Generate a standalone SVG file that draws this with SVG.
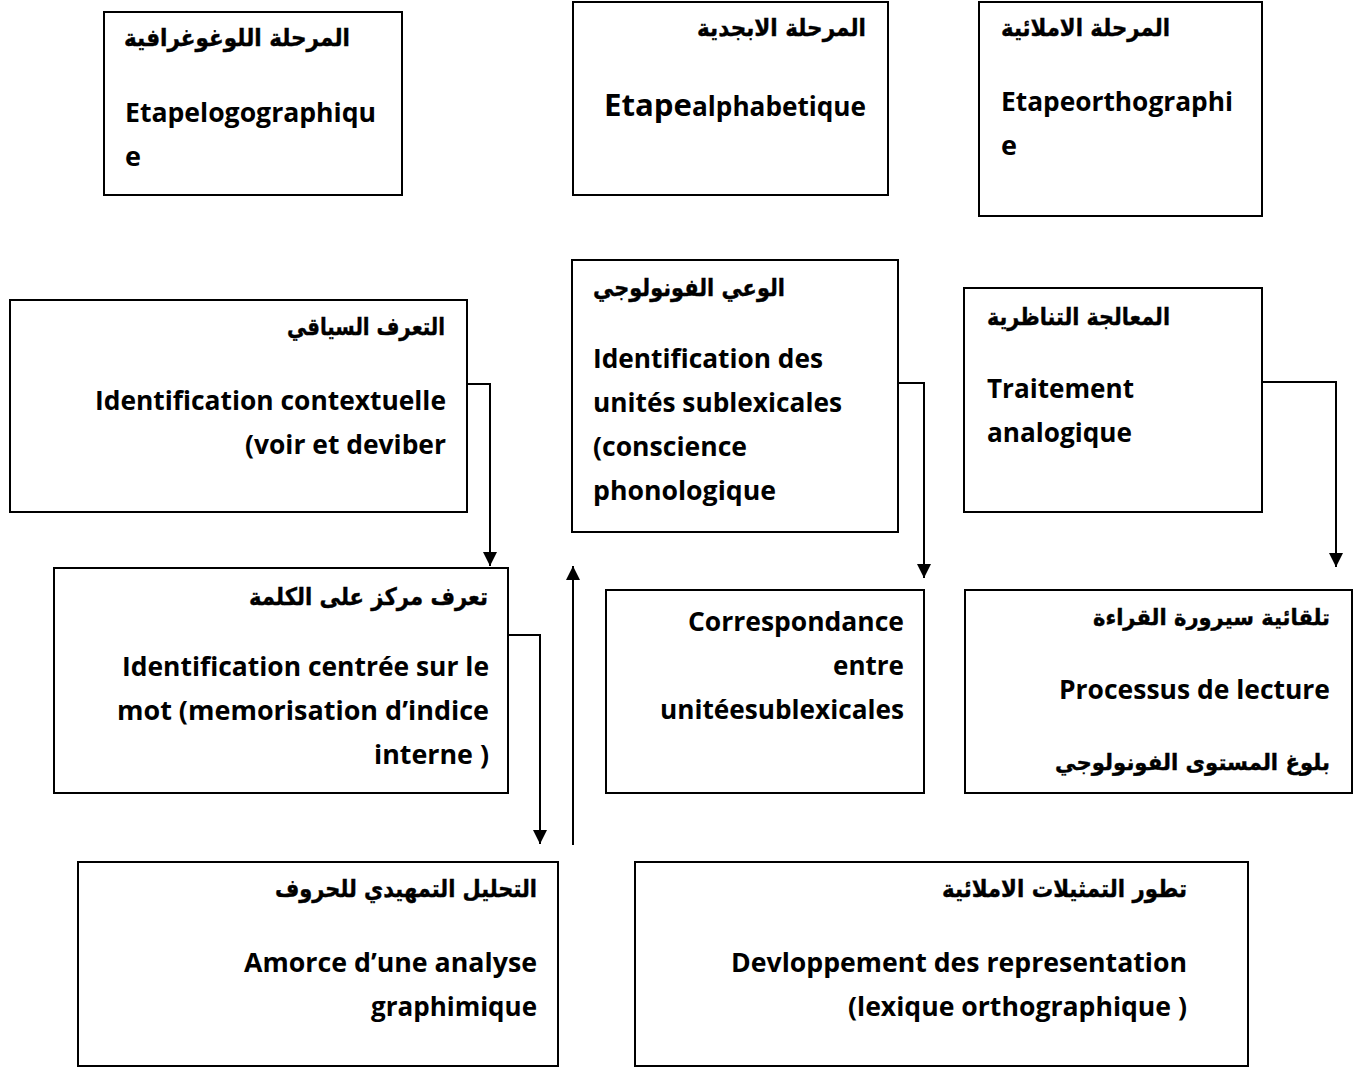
<svg xmlns="http://www.w3.org/2000/svg" width="1362" height="1068" viewBox="0 0 1362 1068">
<defs>
<marker id="arr" markerUnits="userSpaceOnUse" markerWidth="14" markerHeight="16" refX="14" refY="7" orient="auto">
<path d="M0,0 L14,7 L0,14 z" fill="#000"/>
</marker>
<style>
.box{fill:#fff;stroke:#000;stroke-width:2}
.en{font-family:"Open Sans",Lato,"Liberation Sans",sans-serif;font-weight:bold;font-size:27px;fill:#000}
.ar{font-family:"DejaVu Sans","Noto Sans",sans-serif;font-weight:bold;font-size:24px;fill:#000;stroke:#000;stroke-width:0.4}
.ars{font-size:22px}
.con{fill:none;stroke:#000;stroke-width:2}
</style>
</defs>
<rect width="1362" height="1068" fill="#fff"/>

<g id="connectors">
<path class="con" d="M467,384 H490 V566" marker-end="url(#arr)"/>
<path class="con" d="M898,383 H924 V578" marker-end="url(#arr)"/>
<path class="con" d="M1262,382 H1336 V567" marker-end="url(#arr)"/>
<path class="con" d="M508,635 H540 V844" marker-end="url(#arr)"/>
<path class="con" d="M573,845 V566" marker-end="url(#arr)"/>
</g>

<g id="n1">
<rect class="box" x="104" y="12" width="298" height="183"/>
<text class="ar" x="350" y="46" text-anchor="end" textLength="226" lengthAdjust="spacingAndGlyphs">المرحلة اللوغوغرافية</text>
<text class="en" x="125" y="122" textLength="251" lengthAdjust="spacingAndGlyphs">Etapelogographiqu</text>
<text class="en" x="125" y="166">e</text>
</g>

<g id="n2">
<rect class="box" x="573" y="2" width="315" height="193"/>
<text class="ar" x="866" y="36" text-anchor="end" textLength="169" lengthAdjust="spacingAndGlyphs">المرحلة الابجدية</text>
<text class="en" x="604" y="116" textLength="262" lengthAdjust="spacingAndGlyphs"><tspan font-size="31px">Etape</tspan><tspan font-size="26px">alphabetique</tspan></text>
</g>

<g id="n3">
<rect class="box" x="979" y="2" width="283" height="214"/>
<text class="ar" x="1170" y="36" text-anchor="end" textLength="169" lengthAdjust="spacingAndGlyphs">المرحلة الاملائية</text>
<text class="en" x="1001" y="111" textLength="232" lengthAdjust="spacingAndGlyphs">Etapeorthographi</text>
<text class="en" x="1001" y="155">e</text>
</g>

<g id="n4">
<rect class="box" x="10" y="300" width="457" height="212"/>
<text class="ar" x="445" y="335" text-anchor="end" textLength="158" lengthAdjust="spacingAndGlyphs">التعرف السياقي</text>
<text class="en" x="446" y="410" text-anchor="end" textLength="351" lengthAdjust="spacingAndGlyphs">Identification contextuelle</text>
<text class="en" x="446" y="454" text-anchor="end" textLength="201" lengthAdjust="spacingAndGlyphs">(voir et deviber</text>
</g>

<g id="n5">
<rect class="box" x="572" y="260" width="326" height="272"/>
<text class="ar" x="785" y="296" text-anchor="end" textLength="192" lengthAdjust="spacingAndGlyphs">الوعي الفونولوجي</text>
<text class="en" x="593" y="368" textLength="230" lengthAdjust="spacingAndGlyphs">Identification des</text>
<text class="en" x="593" y="412" textLength="249" lengthAdjust="spacingAndGlyphs">unités sublexicales</text>
<text class="en" x="593" y="456" textLength="154" lengthAdjust="spacingAndGlyphs">(conscience</text>
<text class="en" x="593" y="500" textLength="183" lengthAdjust="spacingAndGlyphs">phonologique</text>
</g>

<g id="n6">
<rect class="box" x="964" y="288" width="298" height="224"/>
<text class="ar" x="1170" y="325" text-anchor="end" textLength="183" lengthAdjust="spacingAndGlyphs">المعالجة التناظرية</text>
<text class="en" x="987" y="398" textLength="147" lengthAdjust="spacingAndGlyphs">Traitement</text>
<text class="en" x="987" y="442" textLength="145" lengthAdjust="spacingAndGlyphs">analogique</text>
</g>

<g id="n7">
<rect class="box" x="54" y="568" width="454" height="225"/>
<text class="ar" x="488" y="605" text-anchor="end" textLength="239" lengthAdjust="spacingAndGlyphs">تعرف مركز على الكلمة</text>
<text class="en" x="489" y="676" text-anchor="end" textLength="367" lengthAdjust="spacingAndGlyphs">Identification centrée sur le</text>
<text class="en" x="489" y="720" text-anchor="end" textLength="372" lengthAdjust="spacingAndGlyphs">mot (memorisation d’indice</text>
<text class="en" x="489" y="764" text-anchor="end" textLength="115" lengthAdjust="spacingAndGlyphs">interne )</text>
</g>

<g id="n8">
<rect class="box" x="606" y="590" width="318" height="203"/>
<text class="en" x="904" y="631" text-anchor="end" textLength="216" lengthAdjust="spacingAndGlyphs">Correspondance</text>
<text class="en" x="904" y="675" text-anchor="end" textLength="71" lengthAdjust="spacingAndGlyphs">entre</text>
<text class="en" x="904" y="719" text-anchor="end" textLength="244" lengthAdjust="spacingAndGlyphs">unitéesublexicales</text>
</g>

<g id="n9">
<rect class="box" x="965" y="590" width="387" height="203"/>
<text class="ar ars" x="1330" y="625" text-anchor="end" textLength="237" lengthAdjust="spacingAndGlyphs">تلقائية سيرورة القراءة</text>
<text class="en" x="1330" y="699" text-anchor="end" textLength="271" lengthAdjust="spacingAndGlyphs">Processus de lecture</text>
<text class="ar ars" x="1330" y="770" text-anchor="end" textLength="275" lengthAdjust="spacingAndGlyphs">بلوغ المستوى الفونولوجي</text>
</g>

<g id="n10">
<rect class="box" x="78" y="862" width="480" height="204"/>
<text class="ar" x="537" y="897" text-anchor="end" textLength="262" lengthAdjust="spacingAndGlyphs">التحليل التمهيدي للحروف</text>
<text class="en" x="537" y="972" text-anchor="end" textLength="293" lengthAdjust="spacingAndGlyphs">Amorce d’une analyse</text>
<text class="en" x="537" y="1016" text-anchor="end" textLength="166" lengthAdjust="spacingAndGlyphs">graphimique</text>
</g>

<g id="n11">
<rect class="box" x="635" y="862" width="613" height="204"/>
<text class="ar" x="1187" y="897" text-anchor="end" textLength="245" lengthAdjust="spacingAndGlyphs">تطور التمثيلات الاملائية</text>
<text class="en" x="1187" y="972" text-anchor="end" textLength="456" lengthAdjust="spacingAndGlyphs">Devloppement des representation</text>
<text class="en" x="1187" y="1016" text-anchor="end" textLength="339" lengthAdjust="spacingAndGlyphs">(lexique orthographique )</text>
</g>
</svg>
